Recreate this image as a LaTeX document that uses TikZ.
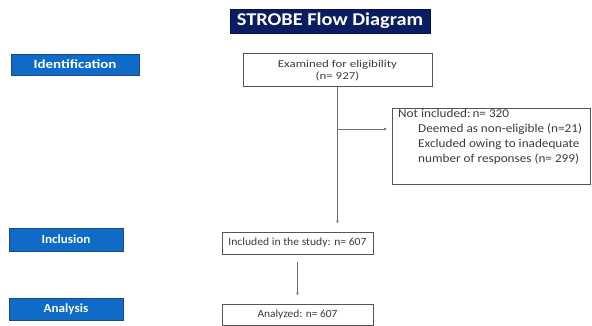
\documentclass[tikz,border=0pt]{standalone}
\usepackage{fontspec}
\setmainfont{Carlito}
\newfontfamily\titlefont[FakeStretch=1.13]{Carlito}
\newfontfamily\identfont[FakeStretch=1.2]{Carlito}
\newfontfamily\secfont[FakeStretch=1.05]{Carlito}
\newfontfamily\examfont[FakeStretch=1.23]{Carlito}
\newfontfamily\notfont[FakeStretch=1.1]{Carlito}
\newfontfamily\inclfont[FakeStretch=1.06]{Carlito}
\newfontfamily\analfont[FakeStretch=1.04]{Carlito}
\usetikzlibrary{arrows.meta}
\definecolor{navy}{RGB}{10,28,98}
\definecolor{secblue}{RGB}{14,108,200}
\definecolor{secedge}{RGB}{30,70,130}
\definecolor{boxedge}{RGB}{85,85,85}
\definecolor{txt}{RGB}{60,60,60}
\definecolor{linegray}{RGB}{110,110,110}
\tikzset{
  titlebox/.style={fill=navy, draw=navy!70!black, text=white, font=\titlefont\bfseries\fontsize{18}{21}\selectfont, minimum width=200pt, minimum height=24pt, inner sep=0pt},
  secbox/.style={fill=secblue, draw=secedge, line width=0.6pt, text=white, font=\secfont\bfseries\fontsize{12.5}{14}\selectfont, inner sep=0pt},
  flowbox/.style={draw=boxedge, line width=1pt, fill=white, text=txt, font=\analfont\fontsize{11}{12}\selectfont, inner sep=0pt, align=center},
  conn/.style={draw=linegray, line width=0.8pt, -{Latex[length=3pt,width=3pt]}},
}
\begin{document}
\begin{tikzpicture}[x=1pt,y=-1pt]
\useasboundingbox (0,0) rectangle (592,326);
\fill[white] (0,0) rectangle (592,326);
\node[titlebox] (title) at (330,21) {STROBE Flow Diagram};
\node[secbox, minimum width=128pt, minimum height=21pt, font=\identfont\bfseries\fontsize{12.5}{14}\selectfont] (ident) at (75,64.5) {Identification};
\node[secbox, minimum width=114pt, minimum height=23pt] (incl) at (66,239.5) {Inclusion};
\node[secbox, minimum width=114pt, minimum height=22pt] (anal) at (66,309) {Analysis};
\node[flowbox, minimum width=189pt, minimum height=33pt, font=\examfont\fontsize{10.5}{11.5}\selectfont] (exam) at (337.5,70.5) {Examined for eligibility\\(n= 927)};
\node[flowbox, minimum width=198pt, minimum height=76pt, anchor=north west] (notinc) at (392,108) {};
\node[anchor=north west, align=left, text=txt, font=\notfont\fontsize{12}{15.3}\selectfont, inner sep=0pt] (notinctext) at (398,108.5) {Not included:\,n= 320\\\hspace*{20pt}Deemed as non-eligible (n=21)\\\hspace*{20pt}Excluded owing to inadequate\\\hspace*{20pt}number of responses (n= 299)};
\node[flowbox, minimum width=151pt, minimum height=22pt, font=\inclfont\fontsize{11}{12}\selectfont] (included) at (297.5,243) {Included in the study: n= 607};
\node[flowbox, minimum width=151pt, minimum height=21pt] (analyzed) at (297.5,314.5) {Analyzed: n= 607};
\coordinate (branch) at (exam.south |- 0,129);
\draw[conn, shorten >=8pt] (exam.south) -- (exam.south |- included.north);
\draw[conn, shorten >=5pt] (branch) -- (notinc.west |- branch);
\draw[conn, shorten <=7pt, shorten >=8pt] (included.south) -- (analyzed.north);
\end{tikzpicture}
\end{document}
